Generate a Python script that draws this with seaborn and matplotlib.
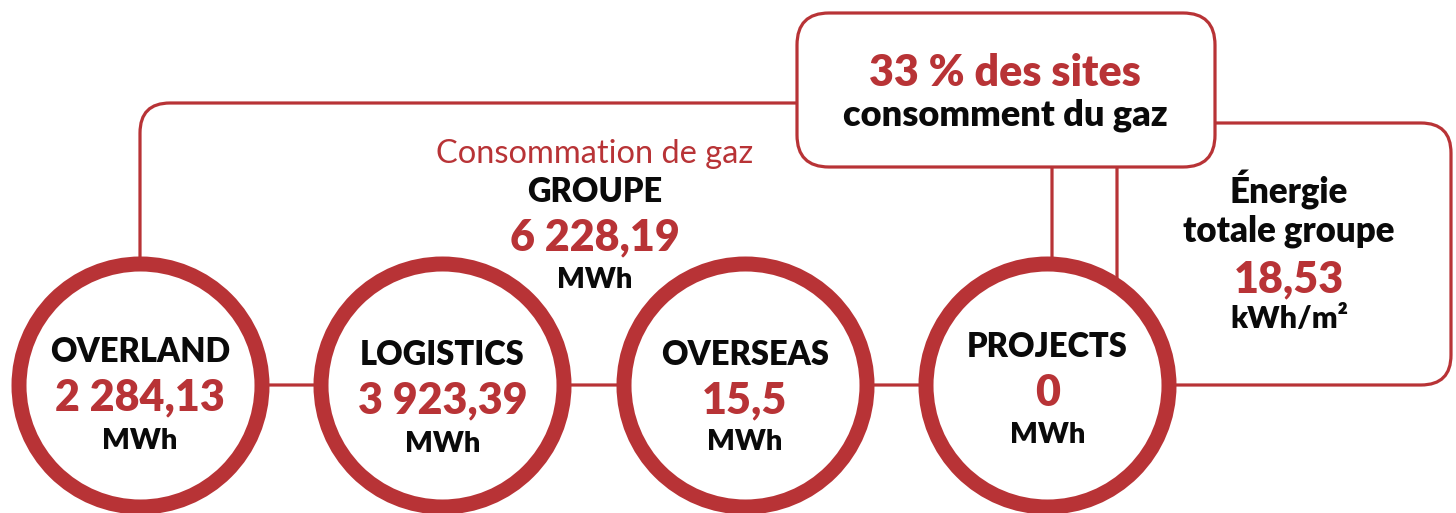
import matplotlib
matplotlib.use("Agg")
import matplotlib.pyplot as plt
from matplotlib.patches import FancyBboxPatch
import seaborn as sns
import pandas as pd

# ---- data ----
divisions = ["OVERLAND", "LOGISTICS", "OVERSEAS", "PROJECTS"]
gas_values = ["2 284,13", "3 923,39", "15,5", "0"]
unit = "MWh"
group_title = "Consommation de gaz"
group_label = "GROUPE"
group_value = "6 228,19"
share_value = "33 % des sites"
share_label = "consomment du gaz"
energy_label = ["Énergie", "totale groupe"]
energy_value = "18,53"
energy_unit = "kWh/m²"

# ---- style ----
RED = "#B83336"
BLACK = "#0a0a0a"
W, H = 1456, 513
sns.set_theme(style="white")
plt.rcParams["font.family"] = ["Lato", "DejaVu Sans"]

fig = plt.figure(figsize=(W / 100, H / 100), dpi=100)
ax = fig.add_axes([0, 0, 1, 1])

x0, step, cy = 140, 302.4, 385
df = pd.DataFrame({"division": divisions, "value": gas_values})
df["x"] = x0 + step * df.index
df["y"] = cy

# rings for divisions
ring_d_pt = 243 * 0.72
sns.scatterplot(data=df, x="x", y="y", ax=ax, s=ring_d_pt ** 2,
                marker="o", facecolor="white", edgecolor=RED,
                linewidth=15 * 0.72, legend=False, zorder=4)
ax.set_xlim(0, W)
ax.set_ylim(H, 0)
ax.set_aspect("equal")
ax.axis("off")

# connector frames (drawn below circles / top box)
thin = 2.3
ax.add_patch(FancyBboxPatch((x0, 103), 1052 - x0, cy - 103,
                            boxstyle="round,pad=0,rounding_size=30",
                            fc="none", ec=RED, lw=thin, zorder=1))
ax.add_patch(FancyBboxPatch((1117, 123), 1451 - 1117, cy - 123,
                            boxstyle="round,pad=0,rounding_size=30",
                            fc="none", ec=RED, lw=thin, zorder=1))
# top box
ax.add_patch(FancyBboxPatch((797, 13), 1215 - 797, 167 - 13,
                            boxstyle="round,pad=0,rounding_size=32",
                            fc="white", ec=RED, lw=thin, zorder=3))

bold = dict(fontweight="heavy", ha="center", va="baseline", zorder=6)
name_base = [362, 365, 365, 357]
val_base = [410, 413, 413, 406]
unit_base = [449, 452, 450, 443]
for i, row in df.iterrows():
    ax.text(row.x, name_base[i], row.division, color=BLACK, fontsize=23.5, **bold)
    ax.text(row.x, val_base[i], row.value, color=RED, fontsize=31, **bold)
    ax.text(row.x, unit_base[i], unit, color=BLACK, fontsize=21, **bold)

# group totals
gx = 595
ax.text(gx, 163, group_title, color=RED, fontsize=23.5, fontweight="normal",
        ha="center", va="baseline", zorder=6)
ax.text(gx, 202, group_label, color=BLACK, fontsize=23.5, **bold)
ax.text(gx, 250, group_value, color=RED, fontsize=31, **bold)
ax.text(gx, 288, unit, color=BLACK, fontsize=21, **bold)

# top box text
tx = 1005
ax.text(tx, 86, share_value, color=RED, fontsize=31, **bold)
ax.text(tx, 125, share_label, color=BLACK, fontsize=26, **bold)

# right panel
rx = 1289
ax.text(rx, 203, energy_label[0], color=BLACK, fontsize=25, **bold)
ax.text(rx, 242, energy_label[1], color=BLACK, fontsize=25, **bold)
ax.text(rx, 292, energy_value, color=RED, fontsize=31, **bold)
ax.text(rx, 328, energy_unit, color=BLACK, fontsize=22, **bold)

fig.savefig("out.png", dpi=100, facecolor="white")
